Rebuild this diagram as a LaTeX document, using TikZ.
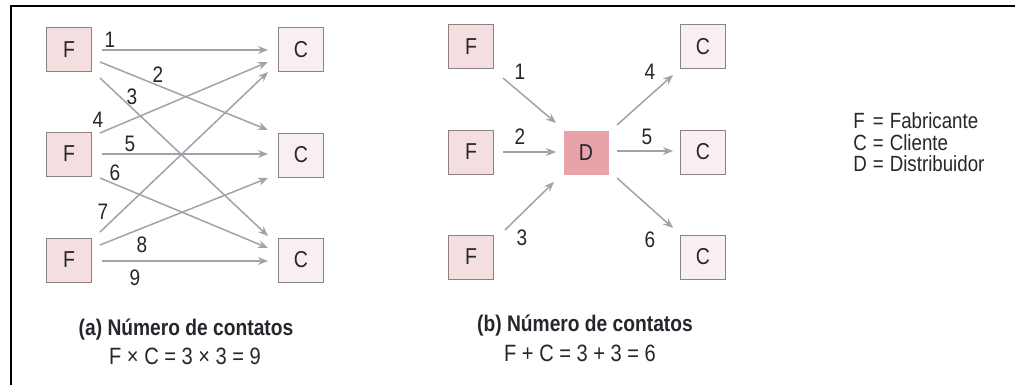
\documentclass[tikz,border=0pt]{standalone}
\usepackage{fontspec}
\setmainfont{Liberation Sans}[FakeStretch=0.85]
\usetikzlibrary{arrows.meta,calc}
\definecolor{ffill}{HTML}{F4DEE0}
\definecolor{cfill}{HTML}{F8EFF1}
\definecolor{bdraw}{HTML}{8C8284}
\definecolor{dfill}{HTML}{E8A2AA}
\definecolor{arrc}{HTML}{A2A2AC}
\definecolor{txt}{HTML}{26262C}
\begin{document}
\begin{tikzpicture}[x=0.5pt,y=-0.5pt,
  every node/.style={text=txt},
  fbox/.style={draw=bdraw,line width=0.5pt,fill=ffill,minimum width=22.5pt,minimum height=22pt,inner sep=0pt,font=\fontsize{11.5}{13}\selectfont},
  cbox/.style={fbox,fill=cfill},
  dbox/.style={fbox,draw=none,fill=dfill},
  arr/.style={draw=arrc,line width=0.75pt,-{Stealth[length=5pt,width=4pt]}},
  lab/.style={font=\fontsize{11.2}{13}\selectfont,inner sep=0pt},
  captxt/.style={font=\bfseries\fontsize{11.3}{13}\selectfont,inner sep=0pt},
  formtxt/.style={font=\fontsize{11.8}{13}\selectfont,inner sep=0pt}]
\useasboundingbox (0,0) rectangle (1015,385);
\fill[white] (0,0) rectangle (1015,385);
\draw[line width=1.3pt,black] (11,385) -- (11,6) -- (1015,6);
% (a)
\node[fbox] (aF1) at (69,50) {F};
\node[fbox] (aF2) at (69,154) {F};
\node[fbox] (aF3) at (69,260) {F};
\node[cbox] (aC1) at (301,50) {C};
\node[cbox] (aC2) at (301,155) {C};
\node[cbox] (aC3) at (301,260) {C};
\draw[arr] ($(aF1.center)+(33,0)$) -- ($(aC1.center)+(-33,0)$);
\draw[arr] ($(aF1.center)+(31,12)$) -- ($(aC2.center)+(-33,-25)$);
\draw[arr] ($(aF1.center)+(31,28)$) -- ($(aC3.center)+(-33,-24)$);
\draw[arr] ($(aF2.center)+(31,-21)$) -- ($(aC1.center)+(-33,12)$);
\draw[arr] ($(aF2.center)+(33,0)$) -- ($(aC2.center)+(-33,-1)$);
\draw[arr] ($(aF2.center)+(31,24)$) -- ($(aC3.center)+(-33,-12)$);
\draw[arr] ($(aF3.center)+(31,-28)$) -- ($(aC1.center)+(-33,22)$);
\draw[arr] ($(aF3.center)+(31,-15)$) -- ($(aC2.center)+(-33,23)$);
\draw[arr] ($(aF3.center)+(33,1)$) -- ($(aC3.center)+(-33,1)$);
\node[lab] (al1) at (110,40) {1};
\node[lab] (al2) at (158,75) {2};
\node[lab] (al3) at (132,97) {3};
\node[lab] (al4) at (98,120) {4};
\node[lab] (al5) at (130,144) {5};
\node[lab] (al6) at (115,173) {6};
\node[lab] (al7) at (103,212) {7};
\node[lab] (al8) at (142,245) {8};
\node[lab] (al9) at (135,278) {9};
\node[captxt] (acap) at (186,330) {(a) Número de contatos};
\node[formtxt] (aform) at (185,356) {F × C = 3 × 3 = 9};
% (b)
\node[fbox] (bF1) at (471,47) {F};
\node[fbox] (bF2) at (471,152) {F};
\node[fbox] (bF3) at (471,257) {F};
\node[dbox] (bD) at (586,153) {D};
\node[cbox] (bC1) at (703,47) {C};
\node[cbox] (bC2) at (703,152) {C};
\node[cbox] (bC3) at (703,257) {C};
\draw[arr] ($(bF1.center)+(32,31)$) -- ($(bD.center)+(-30,-30)$);
\draw[arr] ($(bF2.center)+(32,0)$) -- ($(bD.center)+(-30,-1)$);
\draw[arr] ($(bF3.center)+(34,-27)$) -- ($(bD.center)+(-32,29)$);
\draw[arr] ($(bD.center)+(31,-28)$) -- ($(bC1.center)+(-30,28)$);
\draw[arr] ($(bD.center)+(31,-2)$) -- ($(bC2.center)+(-30,-1)$);
\draw[arr] ($(bD.center)+(31,25)$) -- ($(bC3.center)+(-30,-29)$);
\node[lab] (bl1) at (520,72) {1};
\node[lab] (bl2) at (520,137) {2};
\node[lab] (bl3) at (522,238) {3};
\node[lab] (bl4) at (650,72) {4};
\node[lab] (bl5) at (647,137) {5};
\node[lab] (bl6) at (650,240) {6};
\node[captxt] (bcap) at (585,326) {(b) Número de contatos};
\node[formtxt] (bform) at (580,353) {F + C = 3 + 3 = 6};
% legend
\node[anchor=west,inner sep=0pt,font=\fontsize{11}{9}\selectfont] (leg) at (853,145)
 {\begin{tabular}{@{}l@{\hspace{3pt}=\hspace{3pt}}l@{}}
 F & Fabricante\\ C & Cliente\\ D & Distribuidor
 \end{tabular}};
\end{tikzpicture}
\end{document}
